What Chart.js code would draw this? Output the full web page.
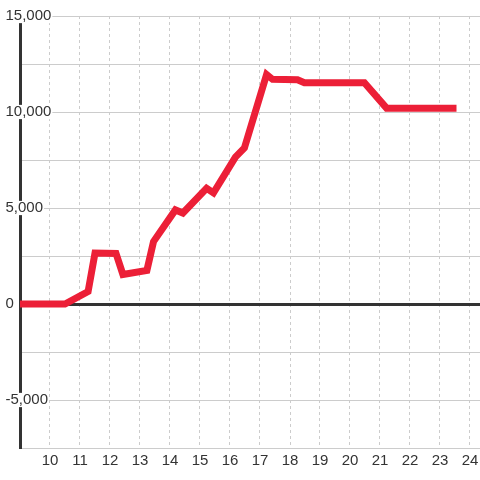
<!DOCTYPE html>
<html>
<head>
    <title>Line Chart</title>
    <script src="https://cdn.jsdelivr.net/npm/chart.js"></script>
    <meta charset="UTF-8" />
    <style>
  html, body {
    margin: 0;
    padding: 0;
    background: #ffffff;
  }
  .canvas-container {
    width: 480px;
    height: 480px;
  }
</style>
</head>
<body>
    <div class="canvas-container">
    <canvas id="myChart" width="480" height="480"></canvas>
    </div>
    <script>
        // values
        const hours = [9, 10.5, 11.27, 11.5, 12.2, 12.43, 13.23, 13.45, 14.18, 14.43, 15.22, 15.45, 16.18, 16.48, 17.22, 17.42, 18.25, 18.48, 20.48, 21.22, 23.55];
        const values = [0, 0, 650, 2650, 2630, 1540, 1750, 3250, 4900, 4740, 6030, 5790, 7650, 8130, 11950, 11700, 11680, 11520, 11520, 10200, 10200];
        const xTicks = [10, 11, 12, 13, 14, 15, 16, 17, 18, 19, 20, 21, 22, 23, 24];
        const yTicks = [-7500, -5000, -2500, 0, 2500, 5000, 7500, 10000, 12500, 15000];
        const yLabels = ['', '-5,000', '', '0', '', '5,000', '', '10,000', '', '15,000'];

        const points = hours.map((h, i) => ({ x: h, y: values[i] }));

        const ctx = document.getElementById('myChart').getContext('2d');
        const myChart = new Chart(ctx, {
            type: 'line',
            data: {
                datasets: [{
                    data: points,
                    borderColor: '#ec1f37',
                    borderWidth: 7,
                    pointRadius: 0,
                    tension: 0,
                    fill: false
                }]
            },
            options: {
                responsive: false,
                animation: false,
                layout: { padding: { left: 0, top: 16, right: 0, bottom: 0 } },
                plugins: {
                    legend: { display: false },
                    tooltip: { enabled: false }
                },
                scales: {
                    x: {
                        type: 'linear',
                        min: 9,
                        max: 9 + 460 / 30,
                        afterBuildTicks: s => { s.ticks = xTicks.map(v => ({ value: v })); },
                        afterFit: s => { s.height = 32; },
                        grid: { color: '#cccccc', lineWidth: 1, drawTicks: false },
                        border: { display: false, dash: [3, 3] },
                        ticks: {
                            autoSkip: false,
                            maxRotation: 0,
                            padding: 0,
                            color: '#333333',
                            font: { family: '"Liberation Sans", Arial, sans-serif', size: 15, lineHeight: 1.75 },
                            callback: v => String(v)
                        }
                    },
                    y: {
                        type: 'linear',
                        min: -7500,
                        max: 15000,
                        afterBuildTicks: s => { s.ticks = yTicks.map(v => ({ value: v })); },
                        afterFit: s => { s.width = 20; },
                        grid: {
                            drawTicks: false,
                            color: c => c.tick && c.tick.value === 0 ? '#333333' : '#cccccc',
                            lineWidth: c => c.tick && c.tick.value === 0 ? 3 : 1
                        },
                        border: { display: true, color: '#333333', width: 3 },
                        ticks: {
                            autoSkip: false,
                            mirror: true,
                            padding: -14.5,
                            color: '#333333',
                            showLabelBackdrop: true,
                            backdropColor: '#ffffff',
                            backdropPadding: { left: 1, right: 1, top: 0, bottom: 0 },
                            font: { family: '"Liberation Sans", Arial, sans-serif', size: 15, lineHeight: 0.95 },
                            callback: (v, i) => yLabels[yTicks.indexOf(v)]
                        }
                    }
                }
            }
        });
    </script>
</body>
</html>
